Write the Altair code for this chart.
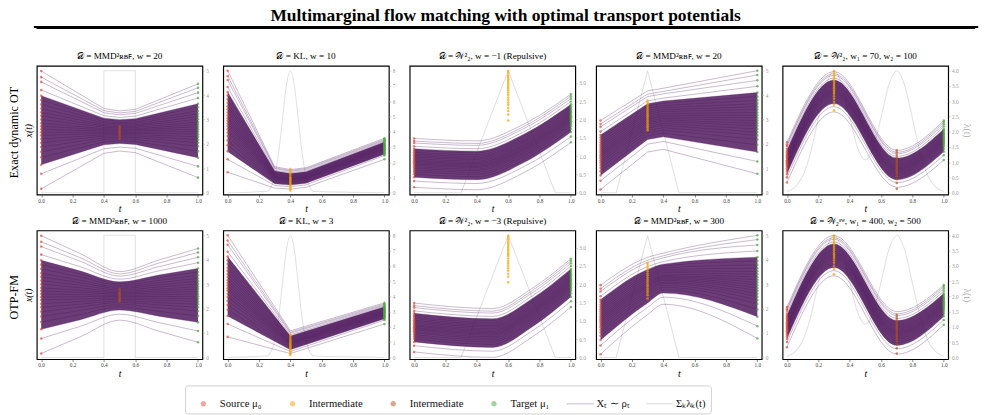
import altair as alt
import pandas as pd

SERIF = "Liberation Serif"
PURPLE = "#4a1258"
LAM_GREY = "#e2e2e2"
C_SRC = "#e04b3a"
C_MID1 = "#f3a200"
C_MID2 = "#b4501c"
C_TGT = "#47a739"

T_TICKS = [0.0, 0.2, 0.4, 0.6, 0.8, 1.0]
T_DOMAIN = [-0.028, 1.028]
X_DOMAIN = [-0.15, 10.4]
CORE_HI, CORE_LO = 4, 21

# ---------------- column 1: MMD, intermediate at t = 0.5 ----------------
SRC1 = [9.97, 9.47, 9.08, 8.42, 7.95, 7.6, 7.25, 6.9, 6.6, 6.3, 6.0, 5.7, 5.45, 5.2, 4.95, 4.7, 4.4, 4.1, 3.75, 3.35, 2.9, 2.3, 1.55, 0.32]
TGT1 = [8.92, 8.6, 8.2, 7.76, 7.29, 7.0, 6.72, 6.47, 6.24, 6.02, 5.8, 5.6, 5.4, 5.2, 5.0, 4.8, 4.58, 4.35, 4.1, 3.8, 3.4, 2.87, 2.16, 1.24]
EX1_T04 = [6.90, 6.72, 6.55, 6.31, 6.11, 5.97, 5.83, 5.71, 5.58, 5.47, 5.36, 5.25, 5.16, 5.06, 4.96, 4.86, 4.75, 4.64, 4.50, 4.35, 4.17, 3.93, 3.61, 3.23]
EX1_T05 = [6.70, 6.54, 6.39, 6.17, 5.99, 5.87, 5.74, 5.63, 5.52, 5.42, 5.32, 5.22, 5.14, 5.05, 4.96, 4.87, 4.77, 4.67, 4.55, 4.41, 4.25, 4.03, 3.74, 3.42]
EX1_T06 = [6.83, 6.66, 6.50, 6.27, 6.07, 5.94, 5.80, 5.68, 5.56, 5.46, 5.35, 5.24, 5.16, 5.06, 4.96, 4.87, 4.76, 4.65, 4.52, 4.37, 4.20, 3.96, 3.65, 3.29]
FM1_T025 = [8.50, 8.16, 7.87, 7.42, 7.07, 6.83, 6.58, 6.33, 6.12, 5.91, 5.70, 5.50, 5.32, 5.14, 4.97, 4.79, 4.58, 4.37, 4.13, 3.84, 3.52, 3.09, 2.55, 1.69]
FM1_T05 = [7.03, 6.85, 6.66, 6.41, 6.19, 6.05, 5.90, 5.76, 5.64, 5.52, 5.40, 5.29, 5.19, 5.08, 4.98, 4.87, 4.76, 4.63, 4.50, 4.33, 4.14, 3.88, 3.54, 3.05]
FM1_T075 = [7.98, 7.73, 7.43, 7.09, 6.74, 6.53, 6.31, 6.12, 5.94, 5.77, 5.60, 5.45, 5.30, 5.14, 4.99, 4.84, 4.67, 4.49, 4.30, 4.07, 3.77, 3.38, 2.85, 2.15]
MID1_EX = [5.45, 5.3, 5.15, 5.0, 4.9, 4.75, 4.6, 4.4]
MID1_FM = [5.6, 5.4, 5.25, 5.1, 4.95, 4.8, 4.7, 4.56]
LAM1_T = [0.0, 0.4, 0.4, 0.6, 0.6, 1.0]
LAM1 = [0, 0, 5, 5, 0, 0]

# ---------------- column 2: KL, intermediate at t = 0.4 ----------------
SRC2 = [10.0, 9.57, 9.23, 8.66, 8.26, 7.96, 7.65, 7.35, 7.09, 6.83, 6.58, 6.32, 6.10, 5.89, 5.67, 5.46, 5.20, 4.94, 4.64, 4.29, 3.90, 3.39, 2.74, 1.68]
TGT2 = [4.47, 4.38, 4.30, 4.22, 4.15, 4.08, 4.02, 3.96, 3.90, 3.85, 3.80, 3.75, 3.70, 3.65, 3.60, 3.55, 3.50, 3.44, 3.38, 3.31, 3.24, 3.16, 3.06, 2.74]
EX2_T03 = [2.14, 2.05, 1.98, 1.85, 1.78, 1.71, 1.65, 1.58, 1.52, 1.47, 1.41, 1.36, 1.32, 1.27, 1.23, 1.18, 1.13, 1.07, 1.01, 0.93, 0.85, 0.74, 0.60, 0.38]
EX2_T04 = [1.90, 1.82, 1.75, 1.64, 1.57, 1.51, 1.45, 1.39, 1.34, 1.29, 1.24, 1.19, 1.15, 1.11, 1.07, 1.03, 0.98, 0.93, 0.87, 0.80, 0.73, 0.63, 0.50, 0.30]
EX2_T05 = [2.05, 1.97, 1.90, 1.79, 1.72, 1.66, 1.60, 1.54, 1.49, 1.44, 1.39, 1.34, 1.30, 1.26, 1.22, 1.18, 1.13, 1.08, 1.02, 0.95, 0.88, 0.78, 0.65, 0.45]
FM2_T04 = [2.18, 2.07, 1.98, 1.85, 1.76, 1.69, 1.62, 1.55, 1.49, 1.43, 1.37, 1.31, 1.26, 1.21, 1.16, 1.11, 1.05, 0.99, 0.92, 0.84, 0.75, 0.63, 0.48, 0.32]
MID2_EX = [1.95, 1.75, 1.6, 1.45, 1.3, 1.2, 1.1, 1.0, 0.9, 0.8, 0.7, 0.6, 0.45, 0.3, 0.18]
MID2_FM = [1.9, 1.75, 1.6, 1.45, 1.32, 1.2, 1.1, 1.0, 0.9, 0.8, 0.7, 0.58, 0.45, 0.32, 0.2]
LAM2_T = [0.0, 0.25, 0.275, 0.3, 0.325, 0.35, 0.375, 0.4, 0.425, 0.45, 0.475, 0.5, 0.525, 0.55, 1.0]
LAM2 = [0, 0.09, 0.35, 1.08, 2.6, 4.85, 7.06, 8.0, 7.06, 4.85, 2.6, 1.08, 0.35, 0.09, 0]

# ---------------- column 3: W2 repulsive, intermediate at t = 0.6 ----------------
SRC3 = [4.45, 4.24, 4.08, 3.81, 3.61, 3.47, 3.32, 3.18, 3.05, 2.93, 2.80, 2.68, 2.58, 2.47, 2.37, 2.27, 2.14, 2.02, 1.87, 1.71, 1.52, 1.27, 0.96, 0.45]
TGT3 = [8.08, 7.91, 7.71, 7.48, 7.24, 7.09, 6.95, 6.82, 6.70, 6.59, 6.47, 6.37, 6.27, 6.17, 6.06, 5.96, 5.85, 5.73, 5.60, 5.45, 5.24, 4.97, 4.60, 4.13]
EX3_T04 = [4.25, 4.04, 3.88, 3.61, 3.41, 3.27, 3.12, 2.98, 2.85, 2.73, 2.60, 2.48, 2.38, 2.27, 2.17, 2.07, 1.94, 1.82, 1.67, 1.51, 1.32, 1.07, 0.76, 0.25]
EX3_T07 = [5.63, 5.43, 5.26, 5.00, 4.79, 4.65, 4.50, 4.36, 4.24, 4.12, 3.99, 3.88, 3.78, 3.67, 3.57, 3.47, 3.35, 3.23, 3.08, 2.93, 2.73, 2.47, 2.14, 1.65]
FM3_T05 = [4.00, 3.79, 3.63, 3.36, 3.16, 3.02, 2.87, 2.73, 2.60, 2.48, 2.35, 2.23, 2.13, 2.02, 1.92, 1.82, 1.69, 1.57, 1.42, 1.26, 1.07, 0.82, 0.51, 0.0]
FM3_T075 = [5.63, 5.44, 5.26, 5.01, 4.79, 4.65, 4.50, 4.37, 4.24, 4.12, 4.00, 3.89, 3.79, 3.68, 3.58, 3.48, 3.35, 3.23, 3.09, 2.94, 2.74, 2.48, 2.15, 1.65]
MID3_EX = [9.97, 9.8, 9.6, 9.45, 9.3, 9.15, 9.0, 8.85, 8.7, 8.55, 8.4, 8.2, 8.0, 7.8, 7.6, 7.4, 7.2, 6.95, 6.7, 6.4, 5.92]
MID3_FM = [9.97, 9.82, 9.65, 9.5, 9.35, 9.2, 9.05, 8.9, 8.75, 8.6, 8.45, 8.3, 8.1, 7.9, 7.7, 7.5, 7.3, 7.1, 6.85, 6.6, 6.15]
LAM3_T = [0.0, 0.3, 0.6, 0.9, 1.0]
LAM3 = [0, 0, 3.333, 0, 0]

# ---------------- column 4: MMD, intermediate at t = 0.3 ----------------
SRC4 = [5.92, 5.63, 5.40, 5.01, 4.73, 4.53, 4.32, 4.12, 3.94, 3.77, 3.59, 3.42, 3.27, 3.12, 2.98, 2.83, 2.65, 2.48, 2.27, 2.04, 1.77, 1.42, 0.98, 0.26]
TGT4 = [10.0, 9.65, 9.21, 8.72, 8.21, 7.89, 7.58, 7.30, 7.05, 6.81, 6.57, 6.35, 6.13, 5.91, 5.69, 5.47, 5.22, 4.97, 4.70, 4.37, 3.93, 3.34, 2.56, 1.55]
EX4_T03 = [8.34, 8.08, 7.88, 7.53, 7.29, 7.11, 6.92, 6.75, 6.59, 6.44, 6.28, 6.13, 6.00, 5.87, 5.74, 5.61, 5.45, 5.30, 5.11, 4.91, 4.67, 4.36, 3.98, 3.34]
EX4_T04 = [8.56, 8.30, 8.10, 7.75, 7.51, 7.33, 7.14, 6.97, 6.81, 6.66, 6.50, 6.35, 6.22, 6.09, 5.96, 5.83, 5.67, 5.52, 5.33, 5.13, 4.89, 4.58, 4.20, 3.56]
FM4_T03 = [8.20, 7.96, 7.77, 7.44, 7.21, 7.04, 6.87, 6.71, 6.56, 6.41, 6.26, 6.12, 6.00, 5.88, 5.76, 5.63, 5.48, 5.34, 5.16, 4.98, 4.75, 4.46, 4.10, 3.50]
FM4_T04 = [8.54, 8.32, 8.15, 7.85, 7.64, 7.49, 7.34, 7.21, 7.08, 6.95, 6.82, 6.70, 6.61, 6.51, 6.41, 6.30, 6.17, 6.06, 5.90, 5.74, 5.53, 5.27, 4.93, 4.35]
MID4_EX = [7.55, 7.4, 7.25, 7.1, 6.95, 6.8, 6.65, 6.5, 6.35, 6.2, 6.05, 5.9, 5.75, 5.6, 5.45, 5.3, 5.13]
MID4_FM = [7.75, 7.58, 7.4, 7.22, 7.05, 6.88, 6.7, 6.52, 6.35, 6.17, 6.0, 5.82, 5.65, 5.47, 5.3, 5.1, 4.83]
LAM4_T = [0.0, 0.1, 0.3, 0.5, 1.0]
LAM4 = [0, 0, 5, 0, 0]

# ---------------- column 5: W2, intermediates at t = 0.3 and t = 0.7 ----------------
SRC5 = [4.13, 3.96, 3.83, 3.60, 3.44, 3.32, 3.20, 3.08, 2.98, 2.88, 2.78, 2.67, 2.59, 2.50, 2.42, 2.33, 2.23, 2.13, 2.01, 1.87, 1.72, 1.52, 1.26, 0.84]
TGT5 = [5.92, 5.79, 5.62, 5.43, 5.23, 5.11, 4.99, 4.89, 4.79, 4.70, 4.60, 4.52, 4.44, 4.35, 4.27, 4.18, 4.09, 3.99, 3.89, 3.76, 3.59, 3.37, 3.07, 2.68]
EX5_T03 = [9.92, 9.75, 9.62, 9.39, 9.23, 9.11, 8.99, 8.87, 8.77, 8.67, 8.57, 8.46, 8.38, 8.29, 8.21, 8.12, 8.02, 7.92, 7.80, 7.66, 7.51, 7.31, 7.05, 6.63]
EX5_T07 = [3.47, 3.31, 3.19, 2.98, 2.84, 2.73, 2.62, 2.51, 2.41, 2.32, 2.23, 2.13, 2.06, 1.97, 1.90, 1.82, 1.73, 1.63, 1.52, 1.40, 1.26, 1.07, 0.84, 0.45]
FM5_T03 = [9.98, 9.81, 9.68, 9.45, 9.29, 9.17, 9.05, 8.93, 8.83, 8.73, 8.63, 8.52, 8.44, 8.35, 8.27, 8.18, 8.08, 7.98, 7.86, 7.72, 7.57, 7.37, 7.11, 6.69]
FM5_T07 = [3.75, 3.57, 3.43, 3.19, 3.02, 2.89, 2.77, 2.64, 2.53, 2.43, 2.32, 2.21, 2.12, 2.03, 1.94, 1.85, 1.74, 1.63, 1.51, 1.36, 1.20, 0.99, 0.71, 0.27]
MID5A_EX = [9.97, 9.8, 9.62, 9.45, 9.3, 9.15, 9.0, 8.85, 8.7, 8.55, 8.4, 8.25, 8.1, 7.9, 7.7, 7.45, 7.2, 6.76]
MID5A_FM = [9.98, 9.82, 9.65, 9.5, 9.35, 9.2, 9.05, 8.9, 8.75, 8.6, 8.45, 8.3, 8.15, 7.95, 7.75, 7.5, 7.25, 6.82]
MID5B_EX = [3.47, 3.3, 3.1, 2.9, 2.75, 2.6, 2.45, 2.3, 2.15, 2.0, 1.85, 1.7, 1.55, 1.35, 1.1, 0.8, 0.32]
MID5B_FM = [3.5, 3.32, 3.14, 2.96, 2.8, 2.64, 2.48, 2.32, 2.16, 2.0, 1.84, 1.68, 1.5, 1.3, 1.05, 0.75, 0.32]
LAM5_T = [0.0, 0.05, 0.1, 0.15, 0.2, 0.25, 0.3, 0.35, 0.4, 0.45, 0.5, 0.55, 0.6, 0.65, 0.7, 0.75, 0.8, 0.85, 0.9, 0.95, 1.0]
LAM5 = [0.04, 0.18, 0.54, 1.30, 2.43, 3.53, 4.0, 3.54, 2.47, 1.48, 1.08, 1.48, 2.47, 3.54, 4.0, 3.53, 2.43, 1.30, 0.54, 0.18, 0.04]

# right-axis ticks per column
RT1 = [0, 1, 2, 3, 4, 5]
RT2 = [0, 1, 2, 3, 4, 5, 6, 7, 8]
RT3 = [0.0, 0.5, 1.0, 1.5, 2.0, 2.5, 3.0]
RT4 = [0, 1, 2, 3, 4, 5]
RT5 = [0.0, 0.5, 1.0, 1.5, 2.0, 2.5, 3.0, 3.5, 4.0]

D = "\U0001D49F"
W = "\U0001D4B2"
MMD = "MMD\u00b2\u0280\u0299\ua730"

TITLES_TOP = [f"{D} = {MMD}, w = 20", f"{D} = KL, w = 10", f"{D} = {W}\u00b2\u2082, w = \u22121 (Repulsive)",
              f"{D} = {MMD}, w = 20", f"{D} = {W}\u00b2\u2082, w\u2081 = 70, w\u2082 = 100"]
TITLES_BOT = [f"{D} = {MMD}, w = 1000", f"{D} = KL, w = 3", f"{D} = {W}\u00b2\u2082, w = \u22123 (Repulsive)",
              f"{D} = {MMD}, w = 300", f"{D} = {W}\u2082\u02e2\u02b7, w\u2081 = 400, w\u2082 = 500"]

LAMBDAS = [
    dict(t=LAM1_T, v=LAM1, interp="linear", ticks=RT1, fmt="d", peak=5.0),
    dict(t=LAM2_T, v=LAM2, interp="monotone", ticks=RT2, fmt="d", peak=8.0),
    dict(t=LAM3_T, v=LAM3, interp="linear", ticks=RT3, fmt=".1f", peak=3.333),
    dict(t=LAM4_T, v=LAM4, interp="linear", ticks=RT4, fmt="d", peak=5.0),
    dict(t=LAM5_T, v=LAM5, interp="monotone", ticks=RT5, fmt=".1f", peak=4.0),
]

TOP = [
    dict(knots=[0.0, 0.4, 0.5, 0.6, 1.0], paths=[SRC1, EX1_T04, EX1_T05, EX1_T06, TGT1], interp="linear",
         mids=[(0.5, MID1_EX, C_MID2)]),
    dict(knots=[0.0, 0.3, 0.4, 0.5, 1.0], paths=[SRC2, EX2_T03, EX2_T04, EX2_T05, TGT2], interp="linear",
         mids=[(0.4, MID2_EX, C_MID1)]),
    dict(knots=[0.0, 0.4, 0.7, 1.0], paths=[SRC3, EX3_T04, EX3_T07, TGT3], interp="monotone",
         mids=[(0.6, MID3_EX, C_MID1)]),
    dict(knots=[0.0, 0.3, 0.4, 1.0], paths=[SRC4, EX4_T03, EX4_T04, TGT4], interp="linear",
         mids=[(0.3, MID4_EX, C_MID1)]),
    dict(knots=[0.0, 0.3, 0.7, 1.0], paths=[SRC5, EX5_T03, EX5_T07, TGT5], interp="monotone",
         mids=[(0.3, MID5A_EX, C_MID1), (0.7, MID5B_EX, C_MID2)]),
]
BOTTOM = [
    dict(knots=[0.0, 0.25, 0.5, 0.75, 1.0], paths=[SRC1, FM1_T025, FM1_T05, FM1_T075, TGT1], interp="monotone",
         mids=[(0.5, MID1_FM, C_MID2)]),
    dict(knots=[0.0, 0.4, 1.0], paths=[SRC2, FM2_T04, TGT2], interp="linear",
         mids=[(0.4, MID2_FM, C_MID1)]),
    dict(knots=[0.0, 0.5, 0.75, 1.0], paths=[SRC3, FM3_T05, FM3_T075, TGT3], interp="monotone",
         mids=[(0.6, MID3_FM, C_MID1)]),
    dict(knots=[0.0, 0.3, 0.4, 1.0], paths=[SRC4, FM4_T03, FM4_T04, TGT4], interp="monotone",
         mids=[(0.3, MID4_FM, C_MID1)]),
    dict(knots=[0.0, 0.3, 0.7, 1.0], paths=[SRC5, FM5_T03, FM5_T07, TGT5], interp="monotone",
         mids=[(0.3, MID5A_FM, C_MID1), (0.7, MID5B_FM, C_MID2)]),
]

LEGEND_KEYS = ["src", "mid1", "mid2", "tgt", "traj", "lam"]
LEGEND_COLORS = [C_SRC, C_MID1, C_MID2, C_TGT, "#8f6ca3", "#b8b8b8"]
DOT = "M0.2,0A0.2,0.2,0,1,1,-0.2,0A0.2,0.2,0,1,1,0.2,0Z"
DASH = "M-1,-0.035L1,-0.035L1,0.035L-1,0.035Z"
LEGEND_SHAPES = [DOT, DOT, DOT, DOT, DASH, DASH]
LEGEND_LABELS = ("{'src': 'Source \u03bc\u2080', 'mid1': 'Intermediate', 'mid2': 'Intermediate', "
                 "'tgt': 'Target \u03bc\u2081', 'traj': 'X\u209c \u223c \u03c1\u209c', "
                 "'lam': '\u03a3\u2096\u03bb\u2096(t)'}[datum.label]")

PANEL_W, PANEL_H = 171, 133


def t_encoding():
    return alt.X("t:Q", scale=alt.Scale(domain=T_DOMAIN, nice=False, zero=False),
                 axis=alt.Axis(values=T_TICKS, format=".1f", title="t", titleFont=SERIF,
                               titleFontStyle="italic", titleFontWeight="normal", titleFontSize=10,
                               titlePadding=0, labelFont=SERIF, labelFontSize=5.5, labelColor="#444",
                               labelPadding=1.5, tickSize=2.5, tickWidth=0.6, tickColor="#333",
                               domain=False, grid=False))


def build_panel(spec, lam, title, col, with_legend=False):
    xscale = alt.Scale(domain=X_DOMAIN, nice=False, zero=False)
    T = t_encoding()

    traj = pd.DataFrame([{"t": t, "x": v, "path": i}
                         for t, vals in zip(spec["knots"], spec["paths"]) for i, v in enumerate(vals)])
    core = pd.DataFrame({"t": spec["knots"],
                         "hi": [vals[CORE_HI] for vals in spec["paths"]],
                         "lo": [vals[CORE_LO] for vals in spec["paths"]]})

    if col == 0:
        left_axis = alt.Axis(orient="left", title="x(t)", labels=False, ticks=False, domain=False,
                             grid=False, titleFont=SERIF, titleFontStyle="italic", titleFontSize=10,
                             titleFontWeight="normal", titlePadding=3)
    else:
        left_axis = None

    core_layer = alt.Chart(core).mark_area(color=PURPLE, opacity=0.82, interpolate=spec["interp"]).encode(
        x=T, y=alt.Y("hi:Q", scale=xscale, axis=left_axis), y2="lo:Q")
    line_layer = alt.Chart(traj).mark_line(color=PURPLE, opacity=0.3, strokeWidth=1.0,
                                           interpolate=spec["interp"]).encode(
        x=T, y=alt.Y("x:Q", scale=xscale, axis=left_axis), detail="path:N")

    layers = [core_layer, line_layer]
    point_sets = [(spec["knots"][0], spec["paths"][0], C_SRC),
                  (spec["knots"][-1], spec["paths"][-1], C_TGT)] + list(spec["mids"])
    for t_val, vals, colr in point_sets:
        pts = pd.DataFrame({"t": [t_val] * len(vals), "x": vals})
        layers.append(alt.Chart(pts).mark_circle(color=colr, size=7, opacity=0.7).encode(
            x=T, y=alt.Y("x:Q", scale=xscale, axis=left_axis)))

    if with_legend:
        leg = alt.Legend(title=None, orient="none", legendX=153, legendY=370, direction="horizontal",
                         columns=6, labelExpr=LEGEND_LABELS, labelFont=SERIF, labelFontSize=11,
                         labelColor="#111", symbolSize=784, symbolStrokeWidth=0, strokeColor="#cfcfcf",
                         fillColor="white", cornerRadius=3, padding=5, columnPadding=17, labelOffset=3,
                         symbolOpacity=0.5)
        layers.append(alt.Chart(pd.DataFrame({"item": LEGEND_KEYS})).mark_point(
            filled=True, clip=True, size=784, opacity=0.5).encode(
            x=alt.value(-60), y=alt.value(-60),
            color=alt.Color("item:N", scale=alt.Scale(domain=LEGEND_KEYS, range=LEGEND_COLORS), legend=leg),
            shape=alt.Shape("item:N", scale=alt.Scale(domain=LEGEND_KEYS, range=LEGEND_SHAPES), legend=leg)))

    lam_df = pd.DataFrame({"t": lam["t"], "lam": lam["v"], "k": list(range(len(lam["t"])))})
    peak = lam["peak"]
    right_axis = alt.Axis(orient="right", values=lam["ticks"], format=lam["fmt"],
                          title=("\u03bb(t)" if col == 4 else None), titleColor="#aaaaaa",
                          titleFont=SERIF, titleFontSize=10, titleFontWeight="normal", titlePadding=2,
                          labelFont=SERIF, labelFontSize=5.5, labelColor="#999999", labelPadding=1.5,
                          tickSize=2, tickWidth=0.6, tickColor="#aaaaaa", domain=False, grid=False,
                          minExtent=12, maxExtent=12)
    lam_layer = alt.Chart(lam_df).mark_line(color=LAM_GREY, strokeWidth=1.1, interpolate=lam["interp"]).encode(
        x=T, y=alt.Y("lam:Q", scale=alt.Scale(domain=[-0.015 * peak, 1.04 * peak], nice=False, zero=False),
                     axis=right_axis),
        order="k:Q")

    return alt.layer(lam_layer, alt.layer(*layers)).resolve_scale(y="independent").properties(
        width=PANEL_W, height=PANEL_H,
        title=alt.TitleParams(title, font=SERIF, fontSize=9.5, fontWeight="normal", offset=5, color="black"))


def build_row(specs, titles, row_label, legend_col=None):
    panels = [build_panel(s, LAMBDAS[c], titles[c], c, with_legend=(c == legend_col))
              for c, s in enumerate(specs)]
    return alt.hconcat(*panels, spacing=7.5,
                       title=alt.TitleParams(row_label, orient="left", anchor="middle", font=SERIF,
                                             fontSize=12.5, fontWeight="normal", offset=3))


row_top = build_row(TOP, TITLES_TOP, "Exact dynamic OT")
row_bot = build_row(BOTTOM, TITLES_BOT, "OTP-FM", legend_col=4)
body = alt.vconcat(row_top, row_bot, spacing=0)

header = alt.Chart(pd.DataFrame({"k": [0]})).mark_rule(color="black", strokeWidth=2).encode(
    x=alt.value(-3), x2=alt.value(972), y=alt.value(0)
).properties(width=968, height=1,
             title=alt.TitleParams("Multimarginal flow matching with optimal transport potentials",
                                   font=SERIF, fontSize=18, fontWeight="bold", anchor="middle", offset=1))

chart = alt.vconcat(header, body, spacing=22).properties(
    padding={"left": 8, "top": 0, "right": 5, "bottom": 5}, background="white"
).configure_view(stroke="black", strokeWidth=1.2)

chart.save("out.html", embed_options={"renderer": "svg", "actions": False})
